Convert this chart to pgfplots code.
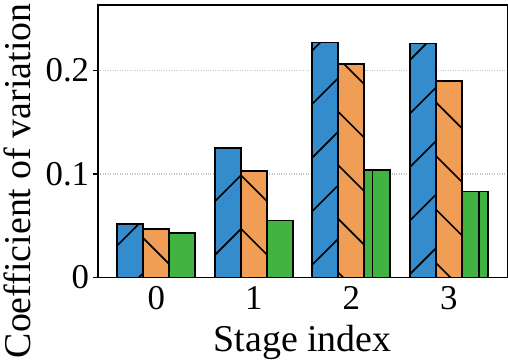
\documentclass[border=0pt]{standalone}
\usepackage{fontspec}
\setmainfont{Liberation Serif}
\usepackage{pgfplots}
\pgfplotsset{compat=1.18}
\usetikzlibrary{patterns.meta}
\definecolor{cblue}{RGB}{53,140,204}
\definecolor{corange}{RGB}{240,157,85}
\definecolor{cgreen}{RGB}{64,179,64}
\begin{document}
\begin{tikzpicture}
\begin{axis}[
  scale only axis,
  width=400bp, height=266bp,
  xmin=-0.6, xmax=3.6, ymin=0, ymax=0.263,
  ybar=0pt, bar width=0.2667,
  xtick={0,1,2,3},
  ytick={0,0.1,0.2}, yticklabels={0,0.1,0.2},
  ytick pos=left,
  xtick style={draw=none},
  ytick style={line width=1.2bp, black},
  tick align=outside, major tick length=5bp,
  axis line style={line width=1.3bp},
  ymajorgrids, major grid style={dotted, gray!45, line width=1.3bp},
  /pgf/number format/assume math mode=true,
  tick label style={font=\fontsize{34bp}{36bp}\selectfont},
  label style={font=\fontsize{37bp}{40bp}\selectfont},
  xlabel={Stage index},
  ylabel={Coefficient of variation},
  ylabel style={at={(ticklabel cs:0.355)}, yshift=8bp},
  xlabel style={yshift=-8bp},
]
\addplot[fill=cblue, draw=black, line width=1.8bp,
  postaction={pattern={Lines[angle=45,distance=37bp,line width=1.6bp]}}]
  coordinates {(0,0.052) (1,0.125) (2,0.227) (3,0.226)};
\addplot[fill=corange, draw=black, line width=1.8bp,
  postaction={pattern={Lines[angle=-45,distance=37bp,line width=1.6bp]}}]
  coordinates {(0,0.047) (1,0.103) (2,0.206) (3,0.190)};
\addplot[fill=cgreen, draw=black, line width=1.8bp,
  postaction={pattern={Lines[angle=90,distance=52bp,line width=1.6bp]}}]
  coordinates {(0,0.043) (1,0.055) (2,0.104) (3,0.083)};
\end{axis}
\end{tikzpicture}
\end{document}
